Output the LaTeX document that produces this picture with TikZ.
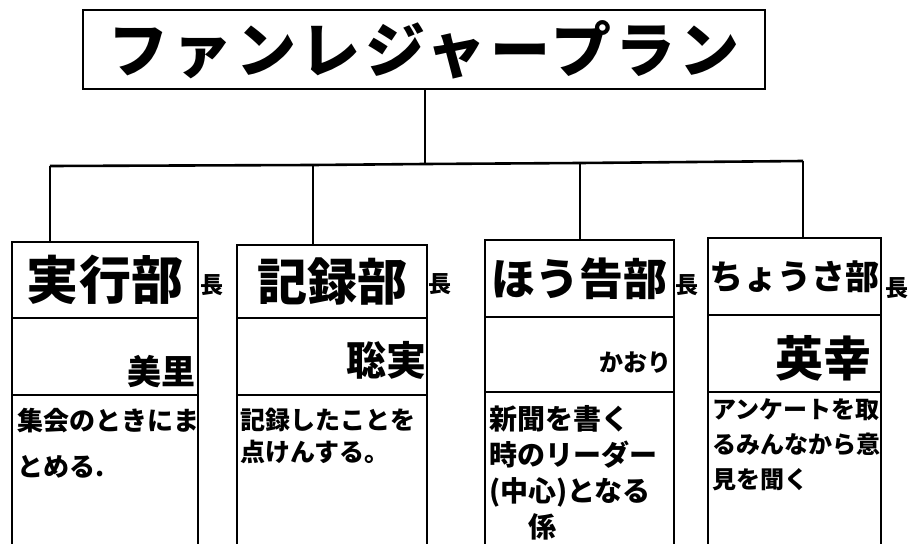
\documentclass[tikz,border=0pt]{standalone}
\usepackage{fontspec}
\newfontfamily\jp{Noto Sans CJK JP}
\begin{document}
\begin{tikzpicture}[x=1pt,y=-1pt,
  cell/.style={draw, line width=2.4pt, inner sep=0pt, outer sep=0pt},
  conn/.style={line width=2.6pt},
  fs/.style={font=\jp\bfseries\fontsize{#1}{#1}\selectfont},
  chou/.style={fs=23, inner sep=0pt},
  nm/.style={inner sep=0pt, anchor=east},
  desc/.style={inner sep=0pt, anchor=north west, align=left}]
\clip (0,0) rectangle (909,543);
\fill[white] (0,0) rectangle (909,543);
% title
\node[cell, minimum width=682, minimum height=79,
      font=\jp\bfseries\fontsize{60}{60}\selectfont\addfontfeatures{LetterSpace=7}] (title) at (424,49.5) {ファンレジャープラン};
% header rows
\node[cell, fs=52, minimum width=186, minimum height=76] (h1) at (105,280) {実行部};
\node[cell, fs=50, minimum width=190, minimum height=73] (h2) at (332,281.5) {記録部};
\node[cell, fs=44, minimum width=189, minimum height=77] (h3) at (579.5,278.5) {ほう告部};
\node[cell, fs=34, minimum width=173, minimum height=77] (h4) at (794.5,276.5) {ちょうさ部};
% name rows
\node[cell, minimum width=186, minimum height=77] (n1) at (105,356.5) {};
\node[cell, minimum width=190, minimum height=77] (n2) at (332,356.5) {};
\node[cell, minimum width=189, minimum height=75] (n3) at (579.5,354.5) {};
\node[cell, minimum width=173, minimum height=77] (n4) at (794.5,353.5) {};
% description rows
\node[cell, minimum width=186, minimum height=170] (d1) at (105,480) {};
\node[cell, minimum width=190, minimum height=170] (d2) at (332,480) {};
\node[cell, minimum width=189, minimum height=173] (d3) at (579.5,478.5) {};
\node[cell, minimum width=173, minimum height=173] (d4) at (794.5,478.5) {};
% 長 labels
\node[chou] (c1) at (212,285) {長};
\node[chou] (c2) at (440,284) {長};
\node[chou] (c3) at (687,285) {長};
\node[chou] (c4) at (897,288) {長};
% names
\node[nm, fs=34] (m1) at (196,372) {美里};
\node[nm, fs=40] (m2) at (427,360) {聡実};
\node[nm, fs=24] (m3) at (672,363) {かおり};
\node[nm, fs=48] (m4) at (872,358) {英幸};
% descriptions
\node[desc, font=\jp\bfseries\fontsize{26}{46}\selectfont] (t1) at (17,408) {集会のときにま\\とめる.};
\node[desc, font=\jp\bfseries\fontsize{25}{32}\selectfont] (t2) at (240,408) {記録したことを\\点けんする。};
\node[desc, font=\jp\bfseries\fontsize{28}{36}\selectfont] (t3) at (489,405) {新聞を書く\\時のリーダー\\(中心)となる\\\hspace*{1.4em}係};
\node[desc, font=\jp\bfseries\fontsize{24}{35}\selectfont] (t4) at (712,398) {アンケートを取\\るみんなから意\\見を聞く};
% connectors
\coordinate (b0) at (425,164);
\coordinate (b1) at (50,166);
\coordinate (b2) at (313,165);
\coordinate (b3) at (580,163);
\coordinate (b4) at (803,161);
\draw[conn] (title.south -| b0) -- (b0);
\draw[conn] (b1) -- (b2) -- (b0) -- (b3) -- (b4);
\draw[conn] (b1) -- (h1.north -| b1);
\draw[conn] (b2) -- (h2.north -| b2);
\draw[conn] (b3) -- (h3.north -| b3);
\draw[conn] (b4) -- (h4.north -| b4);
\end{tikzpicture}
\end{document}
